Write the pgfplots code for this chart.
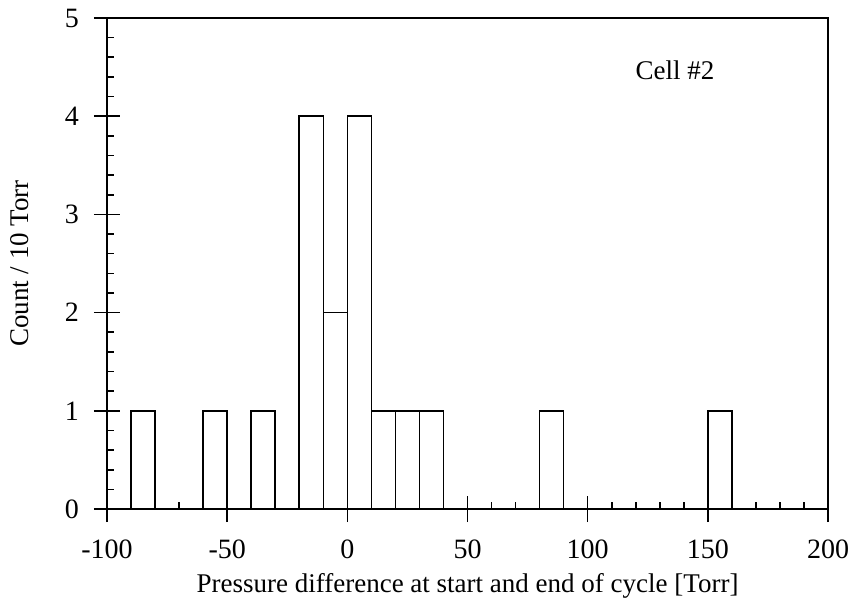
\documentclass[border=0pt]{standalone}
\usepackage{pgfplots}
\pgfplotsset{compat=1.18}
\usepackage{fontspec}
\setmainfont{Liberation Serif}
\begin{document}
\begin{tikzpicture}
\path[use as bounding box] (-53.5pt,-46pt) rectangle (372.5pt,254.5pt);
\begin{axis}[
  scale only axis,
  width=360.5pt, height=245.5pt,
  xmin=-100, xmax=200, ymin=0, ymax=5,
  xtick={-100,-50,0,50,100,150,200},
  ytick={0,1,2,3,4,5},
  minor x tick num=4,
  minor y tick num=4,
  tick pos=left,
  tick align=center,
  major tick length=13pt,
  minor tick length=3.5pt,
  minor x tick style={yshift=1.75pt},
  minor y tick style={xshift=1.75pt},
  tick style={black, line width=0.8pt},
  axis line style={line width=1pt},
  /pgf/number format/assume math mode=true,
  xticklabel shift=5.5pt,
  yticklabel shift=4pt,
  tick label style={font=\fontsize{14}{16}\selectfont},
  label style={font=\fontsize{13.5}{16}\selectfont},
  xlabel={Pressure difference at start and end of cycle [Torr]},
  ylabel={Count / 10 Torr},
  x label style={at={(axis description cs:0.5,-0.157)}, anchor=center},
  y label style={at={(axis description cs:-0.121,0.5)}, anchor=center},
  clip=false,
]
\addplot[ybar, bar width=10, bar shift=0pt, draw=black, fill=white, line width=0.8pt]
  coordinates {(-85,1) (-55,1) (-35,1) (-15,4) (-5,2) (5,4) (15,1) (25,1) (35,1) (85,1) (155,1)};
\node[font=\fontsize{13.5}{16}\selectfont] at (axis cs:136.3,4.47) {Cell \#2};
\end{axis}
\end{tikzpicture}
\end{document}
